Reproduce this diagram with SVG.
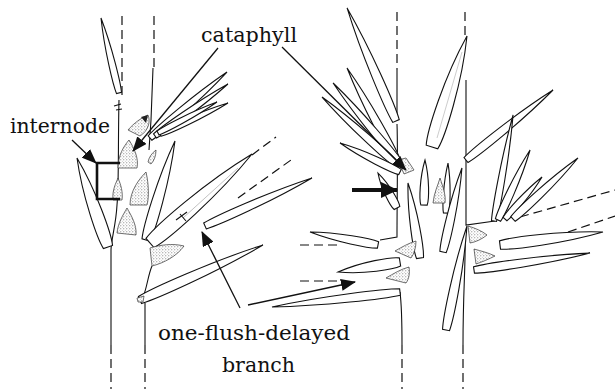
<svg xmlns="http://www.w3.org/2000/svg" width="615" height="389" viewBox="0 0 615 389">
<style>
.ln{fill:none;stroke:#111;stroke-width:1.1}
.ds{fill:none;stroke:#111;stroke-width:1.2;stroke-dasharray:9 5}
.lf{fill:#fff;stroke:#111;stroke-width:1.1;vector-effect:non-scaling-stroke}
.st{fill:url(#stip);stroke:#333;stroke-width:0.7}
.ar{fill:none;stroke:#111;stroke-width:1.3}
</style>
<defs>
<pattern id="stip" patternUnits="userSpaceOnUse" width="3" height="3">
<rect width="3" height="3" fill="#fff"/>
<circle cx="0.8" cy="0.8" r="0.5" fill="#555"/>
<circle cx="2.3" cy="2.2" r="0.4" fill="#777"/>
</pattern>
<path id="needle" class="lf" d="M0,-3.2 C12,-5 60,-5 100,0 C60,5 12,5 0,3.2 Z"/>
<marker id="ah" markerUnits="userSpaceOnUse" markerWidth="16" markerHeight="12" refX="14" refY="6" orient="auto">
<path d="M0,0 L15,6 L0,12 Z" fill="#111"/>
</marker>
<marker id="ahb" markerUnits="userSpaceOnUse" markerWidth="18" markerHeight="16" refX="16" refY="8" orient="auto">
<path d="M0,0 L17,8 L0,16 Z" fill="#111"/>
</marker>
</defs>
<rect width="615" height="389" fill="#fff"/>

<g id="left-plant">
<path class="ds" d="M122,16 V100 M154,16 V68"/>
<path class="ln" d="M153,68 L151,120 L149,150 M119,100 C118,140 119,185 117,205 C116,225 111,240 111,250 V345 M145,303 V345"/>
<path class="ds" d="M111,345 V389 M145,345 V389"/>
<path class="ln" d="M152,266 C148,275 147,288 143,297"/>
<use href="#needle" transform="translate(119 93) rotate(-103.5) scale(0.771 0.8)"/>
<path class="ln" d="M114,106 L121,104 M116,110 L122,109"/>
<path class="st" d="M128,130 C134,123 141,118 148,115 C151,122 148,131 140,136 Z"/>
<path d="M141,117 L148,115 L146,123 Z" fill="#222"/>
<use href="#needle" transform="translate(150 138) rotate(-40.6) scale(1.014 0.9)"/>
<use href="#needle" transform="translate(155 136) rotate(-35.5) scale(0.896 0.8)"/>
<use href="#needle" transform="translate(160 134) rotate(-24.5) scale(0.747 0.8)"/>
<use href="#needle" transform="translate(158 133) rotate(-27.7) scale(0.666 0.7)"/>
<use href="#needle" transform="translate(108 247) rotate(-109.2) scale(0.942 1.5)"/>
<use href="#needle" transform="translate(146 240) rotate(-73.7) scale(1.032 1.3)"/>
<path class="st" d="M118,168 C118,155 124,146 129,140 C134,148 139,158 137,168 Z"/>
<path class="st" d="M113,200 C112,190 116,183 118,178 C121,185 123,192 122,200 Z"/>
<path class="st" d="M130,205 C130,191 139,179 146,172 C149,185 149,198 147,205 Z"/>
<path class="st" d="M117,233 C118,223 123,215 127,208 C131,215 137,225 136,235 Z"/>
<path class="st" d="M148,162 C149,157 152,153 156,150 C156,156 154,161 151,164 Z"/>
<path class="ds" d="M252,155 L276,137 M238,198 L291,160"/>
<use href="#needle" transform="translate(150 243) rotate(-41.1) scale(1.354 1.9)"/>
<path d="M183,218 L238,168" fill="none" stroke="#999" stroke-width="0.6"/>
<path class="ln" d="M180,214 L186,221 M176,220 L187,212"/>
<use href="#needle" transform="translate(205 226) rotate(-24.2) scale(1.173 1.0)"/>
<path class="st" d="M150,248 C160,245 172,243 184,246 C177,256 164,263 152,266 Z"/>
<use href="#needle" transform="translate(140 300) rotate(-24.1) scale(1.347 1.2)"/>
<path class="st" d="M137,298 L144,296 L143,302 L138,302 Z"/>
</g>

<g id="right-plant">
<path class="ds" d="M397,12 V70 M465,12 V38 M402,345 V389 M463,345 V389 M300,245 H342 M300,281 H338 M520,217 L615,190 M568,232 L615,216"/>
<path class="ln" d="M397,70 V120 M397,124 C398,150 397,200 397,237 L380,240 M466,80 V225 L495,221 M465,236 C466,260 463,290 463,345 M400,292 C401,300 402,320 402,345"/>
<use href="#needle" transform="translate(396 121) rotate(-113.4) scale(1.232 1.1)"/>
<use href="#needle" transform="translate(397 160) rotate(-118.5) scale(1.047 1.0)"/>
<use href="#needle" transform="translate(400 163) rotate(-129.9) scale(1.043 0.9)"/>
<use href="#needle" transform="translate(397 165) rotate(-137.8) scale(1.012 0.9)"/>
<use href="#needle" transform="translate(400 172) rotate(-154.2) scale(0.666 0.9)"/>
<path class="st" d="M398,160 L406,158 L414,170 L404,174 Z"/>
<use href="#needle" transform="translate(432 147) rotate(-72.5) scale(1.164 1.9)"/>
<path d="M437,138 L462,52" fill="none" stroke="#aaa" stroke-width="0.6"/>
<use href="#needle" transform="translate(466 160) rotate(-38.8) scale(1.117 1.0)"/>
<use href="#needle" transform="translate(397 208) rotate(-118.5) scale(0.398 1.0)"/>
<use href="#needle" transform="translate(420 258) rotate(-99.1) scale(0.76 1.1)"/>
<use href="#needle" transform="translate(424 205) rotate(-88.7) scale(0.45 1.0)"/>
<use href="#needle" transform="translate(446 213) rotate(-87.7) scale(0.5 0.8)"/>
<path class="st" d="M433,203 C434,193 438,185 440,178 C443,187 446,195 445,203 Z"/>
<use href="#needle" transform="translate(443 252) rotate(-77.3) scale(0.861 1.0)"/>
<use href="#needle" transform="translate(446 330) rotate(-78.6) scale(1.061 1.1)"/>
<use href="#needle" transform="translate(378 245) rotate(-169.2) scale(0.692 1.0)"/>
<use href="#needle" transform="translate(400 262) rotate(170.8) scale(0.628 1.3)"/>
<use href="#needle" transform="translate(400 292) rotate(173.3) scale(1.289 1.0)"/>
<path class="st" d="M395,251 C402,247 409,243 416,241 C416,248 414,254 411,258 Z"/>
<path class="st" d="M386,278 C393,274 401,269 409,267 C410,273 409,279 406,283 Z"/>
<use href="#needle" transform="translate(494 221) rotate(-79.8) scale(1.077 0.8)"/>
<use href="#needle" transform="translate(498 220) rotate(-65.4) scale(0.77 0.9)"/>
<use href="#needle" transform="translate(505 219) rotate(-48.6) scale(0.56 0.8)"/>
<use href="#needle" transform="translate(513 219) rotate(-43.2) scale(0.891 1.0)"/>
<path class="st" d="M468,226 C475,228 482,231 487,235 C482,239 476,242 470,243 Z"/>
<use href="#needle" transform="translate(500 245) rotate(-7.2) scale(1.038 1.3)"/>
<path class="st" d="M474,249 C481,251 489,253 495,256 C489,259 482,262 476,264 Z"/>
<use href="#needle" transform="translate(474 270) rotate(-8.3) scale(1.172 1.0)"/>
</g>

<g id="labels" font-family="'DejaVu Serif', serif" font-size="21" fill="#111">
<text x="201" y="42" textLength="96" lengthAdjust="spacingAndGlyphs">cataphyll</text>
<text x="10" y="133" textLength="100" lengthAdjust="spacingAndGlyphs">internode</text>
<text x="158" y="340" textLength="192" lengthAdjust="spacingAndGlyphs">one-flush-delayed</text>
<text x="222" y="372" textLength="73" lengthAdjust="spacingAndGlyphs">branch</text>
</g>

<g id="connectors">
<path d="M120,163 H97 V199 H120" fill="none" stroke="#111" stroke-width="2.6"/>
<line class="ar" x1="72" y1="140" x2="96" y2="163" marker-end="url(#ah)"/>
<line class="ar" x1="218" y1="48" x2="133" y2="151" marker-end="url(#ah)"/>
<line class="ar" x1="282" y1="47" x2="406" y2="170" marker-end="url(#ah)"/>
<line class="ar" x1="240" y1="308" x2="202" y2="232" marker-end="url(#ah)"/>
<line class="ar" x1="248" y1="305" x2="355" y2="282" marker-end="url(#ah)"/>
<line x1="352" y1="190" x2="397" y2="190" stroke="#111" stroke-width="4" marker-end="url(#ahb)"/>
</g>
</svg>
